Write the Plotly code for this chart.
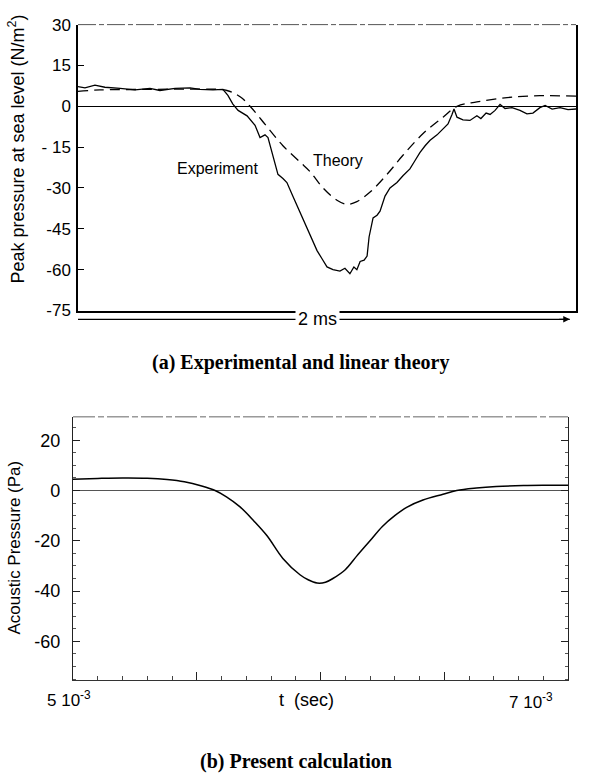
import plotly.graph_objects as go

W, H = 591, 783

# (a) measured sonic-boom signature, time in ms across the 2 ms window
exp_t = [0.000, 0.028, 0.068, 0.108, 0.169, 0.229, 0.289, 0.329, 0.390, 0.450,
         0.490, 0.542, 0.582, 0.602, 0.622, 0.643, 0.679, 0.711, 0.731, 0.751,
         0.763, 0.783, 0.803, 0.823, 0.839, 0.863, 0.892, 0.912, 0.932, 0.960,
         0.980, 1.000, 1.024, 1.052, 1.072, 1.092, 1.108, 1.120, 1.133, 1.149,
         1.161, 1.169, 1.185, 1.201, 1.213, 1.233, 1.253, 1.281, 1.305, 1.333,
         1.353, 1.373, 1.394, 1.414, 1.442, 1.466, 1.486, 1.502, 1.510, 1.522,
         1.546, 1.574, 1.602, 1.618, 1.639, 1.655, 1.675, 1.695, 1.715, 1.743,
         1.775, 1.803, 1.827, 1.855, 1.876, 1.904, 1.936, 1.968, 2.000]
exp_p = [7.2, 6.8, 7.8, 7.0, 6.6, 6.0, 6.6, 5.8, 6.6, 6.8,
         6.2, 6.0, 6.2, 4.0, 0.8, -1.5, -3.5, -7.0, -11.5, -10.5,
         -11.5, -18.0, -25.0, -26.5, -28.0, -33.0, -39.0, -43.0, -47.0, -53.0,
         -56.0, -59.0, -60.0, -60.5, -59.5, -61.5, -59.0, -60.0, -57.0, -56.5,
         -55.0, -48.0, -41.0, -40.0, -38.5, -33.0, -30.0, -28.0, -25.5, -23.0,
         -20.0, -17.0, -14.5, -12.5, -10.5, -8.5, -6.5, -3.0, -1.0, -4.0,
         -5.0, -5.2, -3.5, -4.5, -2.5, -3.0, -1.5, 0.7, -0.8, -0.5,
         -1.5, -2.8, -2.5, -0.5, 0.3, -1.0, -0.5, -1.2, -1.0]

# (a) linear theory prediction
th_t = [0.000, 0.088, 0.289, 0.490, 0.598, 0.651, 0.691, 0.759, 0.823, 0.892,
        0.932, 0.984, 1.040, 1.080, 1.120, 1.173, 1.241, 1.305, 1.386, 1.466,
        1.522, 1.602, 1.723, 1.855, 2.000]
th_p = [5.5, 6.0, 6.2, 6.3, 5.8, 3.5, 0.0, -7.5, -14.5, -20.5,
        -24.0, -30.0, -34.5, -36.0, -35.0, -31.5, -25.0, -18.0, -10.0, -4.0,
        0.0, 1.6, 3.2, 3.9, 3.7]

# (b) present calculation, time in seconds
calc_t = [5.00e-3, 5.10e-3, 5.20e-3, 5.30e-3, 5.38e-3, 5.45e-3, 5.52e-3, 5.574e-3,
          5.62e-3, 5.675e-3, 5.73e-3, 5.784e-3, 5.848e-3, 5.917e-3, 5.95e-3,
          5.986e-3, 6.02e-3, 6.05e-3, 6.10e-3, 6.147e-3, 6.20e-3, 6.25e-3,
          6.30e-3, 6.35e-3, 6.414e-3, 6.495e-3, 6.55e-3, 6.63e-3, 6.71e-3,
          6.82e-3, 6.90e-3, 7.00e-3]
calc_p = [4.5, 4.8, 5.0, 4.9, 4.4, 3.5, 1.8, 0.0,
          -2.5, -6.5, -12.0, -18.0, -27.0, -33.5, -35.5,
          -36.8, -36.5, -35.0, -31.5, -26.0, -20.0, -14.3,
          -10.0, -6.6, -3.8, -1.5, 0.0, 1.0, 1.6,
          2.0, 2.1, 2.1]

top_ticks = [30, 15, 0, -15, -30, -45, -60, -75]
top_ticktext = ["30", "15", "0", "- 15", "-30", "-45", "-60", "-75"]
bot_ticks = [20, 0, -20, -40, -60]
bot_ticktext = ["20", "0", "-20", "-40", "-60"]

SANS = "Liberation Sans, Arial, sans-serif"
SERIF = "Liberation Serif, Times New Roman, serif"

fig = go.Figure()

fig.add_trace(go.Scatter(x=exp_t, y=exp_p, mode="lines", xaxis="x", yaxis="y",
                         line=dict(color="black", width=1.3), showlegend=False))
fig.add_trace(go.Scatter(x=th_t, y=th_p, mode="lines", xaxis="x", yaxis="y",
                         line=dict(color="black", width=1.3, dash="10px,6px"),
                         line_shape="spline", showlegend=False))
fig.add_trace(go.Scatter(x=calc_t, y=calc_p, mode="lines", xaxis="x2", yaxis="y2",
                         line=dict(color="black", width=1.5),
                         line_shape="spline", showlegend=False))

bot_dom = [1 - 688 / H, 1 - 418 / H]
bot_range = [-75.5, 29.3]

fig.update_layout(
    width=W, height=H,
    margin=dict(l=0, r=0, t=0, b=0),
    paper_bgcolor="white", plot_bgcolor="white",
    font=dict(family=SANS, color="black"),
    xaxis=dict(domain=[78 / W, 576 / W], range=[0, 2], showgrid=False,
               zeroline=False, showticklabels=False, ticks="",
               showline=True, linecolor="black", linewidth=1.5, mirror=False),
    yaxis=dict(domain=[1 - 309 / H, 1 - 16 / H], range=[-75, 30],
               tickvals=top_ticks, ticktext=top_ticktext,
               ticks="inside", ticklen=6, tickwidth=1.2, tickcolor="black",
               ticklabelstandoff=2,
               tickfont=dict(size=17, family=SANS),
               showgrid=False, zeroline=True, zerolinecolor="black",
               zerolinewidth=1.2, showline=True, linecolor="black",
               linewidth=1.5, mirror=True),
    xaxis2=dict(domain=[73 / W, 568 / W], range=[5e-3, 7e-3],
                anchor="y2", showgrid=False, zeroline=False,
                showticklabels=False, tickvals=[5.5e-3, 6.0e-3, 6.5e-3],
                ticks="inside", ticklen=8, tickwidth=1, tickcolor="#222",
                minor=dict(dtick=1e-4, tick0=5e-3, ticks="inside", ticklen=4,
                           tickwidth=1, tickcolor="#444"),
                showline=True, linecolor="#333", linewidth=1, mirror=False),
    yaxis2=dict(domain=bot_dom, range=bot_range,
                anchor="x2", tickvals=bot_ticks, ticktext=bot_ticktext,
                ticks="inside", ticklen=7, tickwidth=1, tickcolor="#222",
                minor=dict(dtick=5, tick0=0, ticks="inside", ticklen=3,
                           tickwidth=1, tickcolor="#555"),
                ticklabelstandoff=8,
                tickfont=dict(size=18, family=SANS),
                showgrid=False, zeroline=True, zerolinecolor="#555",
                zerolinewidth=1, showline=True, linecolor="#222",
                linewidth=1.2, mirror=False),
    # right-hand frame of panel (b), ticked like the left one
    yaxis3=dict(domain=bot_dom, range=bot_range, overlaying="y2", side="right",
                anchor="x2", tickvals=bot_ticks, showticklabels=False,
                ticks="inside", ticklen=7, tickwidth=1, tickcolor="#222",
                minor=dict(dtick=5, tick0=0, ticks="inside", ticklen=3,
                           tickwidth=1, tickcolor="#555"),
                showgrid=False, zeroline=False, showline=True,
                linecolor="#222", linewidth=1.2),
)

# invisible point so the right-hand axis of panel (b) is drawn
fig.add_trace(go.Scatter(x=[calc_t[0]], y=[calc_p[0]], xaxis="x2", yaxis="y3",
                         mode="markers", marker=dict(opacity=0),
                         hoverinfo="skip", showlegend=False))

# faint top borders of both frames
fig.add_shape(type="line", xref="x domain", yref="y domain", x0=0, x1=1, y0=1, y1=1,
              line=dict(color="#555", width=1, dash="18px,3px,5px,3px"))
fig.add_shape(type="line", xref="x2 domain", yref="y2 domain", x0=0, x1=1, y0=1, y1=1,
              line=dict(color="#666", width=1, dash="22px,3px,6px,3px"))

# 2 ms time-scale bar under panel (a)
bar_y = 1 - 318 / H
fig.add_shape(type="line", xref="x", yref="paper", x0=0, x1=1.975, y0=bar_y, y1=bar_y,
              line=dict(color="black", width=1.3))
fig.add_annotation(xref="x", yref="paper", x=1.975, y=bar_y, ax=-12, ay=0,
                   axref="pixel", ayref="pixel", text="", showarrow=True,
                   arrowhead=2, arrowsize=1, arrowwidth=1.3, arrowcolor="black")


def label(text, x, y, size=16, family=SANS, angle=0, xref="paper", yref="paper",
          bg=None):
    fig.add_annotation(xref=xref, yref=yref, x=x, y=y, text=text, textangle=angle,
                       xanchor="center", yanchor="middle", showarrow=False,
                       bgcolor=bg, borderpad=2,
                       font=dict(size=size, family=family, color="black"))


label("2 ms", 0.96, bar_y, size=18, xref="x", bg="white")

# curve labels in panel (a)
label("Experiment", 0.562, -23, size=16, xref="x", yref="y")
label("Theory", 1.044, -20, size=16, xref="x", yref="y")

# axis titles
label("Peak pressure at sea level (N/m<sup>2</sup>)", 17 / W, 1 - 144 / H,
      size=18, angle=-90)
label("Acoustic Pressure (Pa)", 15 / W, 1 - 552 / H, size=17, angle=-90)

# panel (b) time labels
label("5 10<sup>-3</sup>", 69 / W, 1 - 707 / H, size=17)
label("t  (sec)", 306 / W, 1 - 708 / H, size=18)
label("7 10<sup>-3</sup>", 531 / W, 1 - 709 / H, size=17)

# captions
label("<b>(a) Experimental and linear theory</b>", 300 / W, 1 - 362 / H,
      size=20, family=SERIF)
label("<b>(b) Present calculation</b>", 296 / W, 1 - 771 / H, size=20, family=SERIF)

fig.write_html("out.html")
